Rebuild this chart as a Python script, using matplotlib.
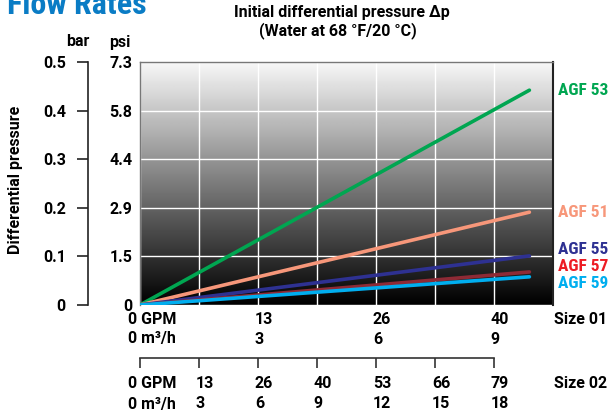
import numpy as np
import matplotlib
matplotlib.use("Agg")
import matplotlib.pyplot as plt
import matplotlib.transforms as mtransforms

plt.rcParams['font.family'] = ['Roboto', 'DejaVu Sans']
plt.rcParams['font.weight'] = 'bold'
COND = ['Roboto Condensed', 'DejaVu Sans']
FS = 11.5

# Data (x in m3/h for size 01, y in bar)
flow = [0, 9.9]
series = ["AGF 53", "AGF 51", "AGF 55", "AGF 57", "AGF 59"]
pressure_end = [0.442, 0.191, 0.101, 0.068, 0.058]
line_colors = ["#00a651", "#f7977a", "#2e3192", "#8e2a35", "#00aeef"]
label_colors = ["#00a651", "#f7977a", "#2e3192", "#ed1c24", "#00aeef"]
label_y = [0.442, 0.191, 0.115, 0.080, 0.045]

bar_ticks = [0, 0.1, 0.2, 0.3, 0.4, 0.5]
bar_labels = ["0", "0.1", "0.2", "0.3", "0.4", "0.5"]
psi_labels = ["0", "1.5", "2.9", "4.4", "5.8", "7.3"]

s01_m3h = [0, 3, 6, 9]
s01_gpm = ["0 GPM", "13", "26", "40"]
s01_m3h_lab = ["0 m³/h", "3", "6", "9"]

s02_m3h = [0, 3, 6, 9, 12, 15, 18]
s02_gpm = ["0 GPM", "13", "26", "40", "53", "66", "79"]
s02_m3h_lab = ["0 m³/h", "3", "6", "9", "12", "15", "18"]

W, H = 612, 417
fig = plt.figure(figsize=(W / 100, H / 100), dpi=100)

def fx(px):
    return px / W

def fy(py):
    return 1 - py / H

ax = fig.add_axes([fx(140), fy(305), (553 - 140) / W, (305 - 62) / H])
ax.set_xlim(0, 10.5)
ax.set_ylim(0, 0.5)

# gradient background
grad = np.linspace(0.97, 0.0, 256).reshape(-1, 1)
ax.imshow(grad, cmap="gray", vmin=0, vmax=1, aspect="auto",
          extent=[0, 10.5, 0, 0.5], zorder=0, origin="upper")

ax.set_xticks(np.arange(0, 10.6, 1.5))
ax.set_xticklabels([])
ax.set_yticks(bar_ticks)
ax.set_yticklabels(psi_labels, fontsize=FS, fontweight="bold")
ax.tick_params(axis="both", length=0, pad=5.5)
ax.tick_params(axis="x", pad=0)
ax.grid(True, color="white", linewidth=1.0, zorder=1)
# the "0" psi label sits a little higher in the original
ax.get_yticklabels()[0].set_va("center_baseline")

for sp in ["top", "left"]:
    ax.spines[sp].set_color("#777777")
    ax.spines[sp].set_linewidth(1.0)
ax.spines["bottom"].set_visible(False)
ax.spines["right"].set_color("#222222")
ax.spines["right"].set_linewidth(1.5)

for name, yend, lc in zip(series, pressure_end, line_colors):
    ax.plot(flow, [0, yend], color=lc, linewidth=2.6, solid_capstyle="round", zorder=3)

tr_y = mtransforms.blended_transform_factory(fig.transFigure, ax.transData)
for name, ly, tc in zip(series, label_y, label_colors):
    fig.text(fx(558), ly, name, transform=tr_y, color=tc, fontsize=12.5,
             family=COND, fontweight="bold", va="center", ha="left")

# bar axis on the left
bax = fig.add_axes([fx(88), fy(305), 0.0001, (305 - 62) / H])
bax.set_ylim(0, 0.5)
bax.set_xticks([])
bax.set_yticks(bar_ticks)
bax.set_yticklabels(bar_labels, fontsize=FS, fontweight="bold")
bax.tick_params(axis="y", direction="out", length=8, width=1.2, pad=8, color="#222222")
for sp in ["top", "right", "bottom"]:
    bax.spines[sp].set_visible(False)
bax.spines["left"].set_linewidth(1.2)
bax.spines["left"].set_color("#222222")
bax.patch.set_visible(False)

fig.text(fx(78), fy(42), "bar", fontsize=FS, fontweight="bold", ha="center", va="center")
fig.text(fx(120), fy(42), "psi", fontsize=FS, fontweight="bold", ha="center", va="center")
fig.text(fx(16), fy(180), "Differential pressure", rotation=90, fontsize=FS,
         fontweight="bold", ha="center", va="center")

fig.text(fx(342), fy(12), "Initial differential pressure \u0394p", fontsize=FS,
         fontweight="bold", ha="center", va="center")
fig.text(fx(338), fy(31), "(Water at 68 °F/20 °C)", fontsize=FS,
         fontweight="bold", ha="center", va="center")
fig.text(fx(7), fy(14), "Flow Rates", fontsize=23, family=COND, fontweight="bold",
         color="#0a7cc5", ha="left", va="baseline")

# size 01 labels
tr_x = mtransforms.blended_transform_factory(ax.transData, fig.transFigure)
for v, g, m in zip(s01_m3h, s01_gpm, s01_m3h_lab):
    x0 = v - 0.08 if v > 0 else -0.3
    ax.text(x0, fy(319), g, transform=tr_x, fontsize=FS, fontweight="bold",
            ha="left", va="center", clip_on=False)
    ax.text(x0, fy(339), m, transform=tr_x, fontsize=FS, fontweight="bold",
            ha="left", va="center", clip_on=False)
fig.text(fx(554), fy(319), "Size 01", fontsize=FS, fontweight="bold", ha="left", va="center")

# size 02 axis line with ticks
sax = fig.add_axes([fx(140), fy(358), (553 - 140) / W, 0.0001])
sax.set_xlim(0, 10.5)
sax.set_ylim(0, 1)
sax.set_yticks([])
sax.set_xticks([v / 2 for v in s02_m3h])
sax.set_xticklabels([])
sax.tick_params(axis="x", direction="out", length=7, width=1.2, color="#333333")
for sp in ["top", "left", "right"]:
    sax.spines[sp].set_visible(False)
sax.spines["bottom"].set_bounds(0, s02_m3h[-1] / 2)
sax.spines["bottom"].set_linewidth(1.2)
sax.spines["bottom"].set_color("#333333")
sax.patch.set_visible(False)

for v, g, m in zip(s02_m3h, s02_gpm, s02_m3h_lab):
    x0 = v / 2 - 0.08 if v > 0 else -0.3
    ax.text(x0, fy(383), g, transform=tr_x, fontsize=FS, fontweight="bold",
            ha="left", va="center", clip_on=False)
    ax.text(x0, fy(404), m, transform=tr_x, fontsize=FS, fontweight="bold",
            ha="left", va="center", clip_on=False)
fig.text(fx(554), fy(383), "Size 02", fontsize=FS, fontweight="bold", ha="left", va="center")

fig.savefig("out.png", dpi=100)
